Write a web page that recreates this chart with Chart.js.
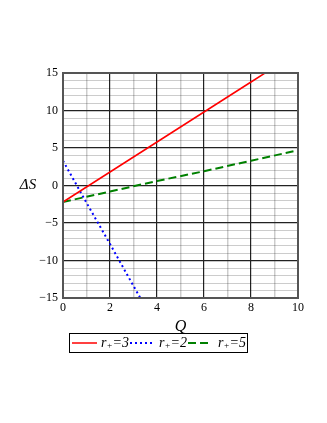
<!DOCTYPE html>
<html>
<head>
<meta charset="utf-8">
<script src="https://cdn.jsdelivr.net/npm/chart.js@4"></script>
<style>
  html, body { margin: 0; padding: 0; background: #fff; }
  #wrap { width: 327px; height: 423px; }
</style>
</head>
<body>
<div id="wrap"><canvas id="chart" width="327" height="423"></canvas></div>
<script>
// values
const seriesNames = ['r\u208A=3', 'r\u208A=2', 'r\u208A=5'];
const qRed   = [0, 2, 4, 6, 8, 10];
const sRed   = [-2.2, 1.8, 5.8, 9.8, 13.8, 17.8];
const qBlue  = [0, 1, 2, 3, 4];
const sBlue  = [3.3, -2.3, -7.8, -13.4, -18.9];
const qGreen = [0, 2, 4, 6, 8, 10];
const sGreen = [-2.2, -0.8, 0.6, 1.9, 3.3, 4.7];
const xTicks = [0, 2, 4, 6, 8, 10];
const yTicks = [-15, -10, -5, 0, 5, 10, 15];

const serif = "'Liberation Serif', 'DejaVu Serif', serif";
const pts = (xs, ys) => xs.map((x, i) => ({ x: x, y: ys[i] }));
const fmt = v => (v < 0 ? '\u2212' + Math.abs(v) : String(v));

// "r₊=3" drawn as r, a small lowered +, then the rest
function drawLabel(c, text, x, y) {
  const parts = text.split('\u208A');
  c.font = 'italic 14px ' + serif;
  c.fillText(parts[0], x, y);
  x += c.measureText(parts[0]).width;
  c.font = 'italic 9px ' + serif;
  c.fillText('+', x, y + 3);
  x += c.measureText('+').width;
  c.font = 'italic 14px ' + serif;
  c.fillText(parts[1], x, y);
}

// border of the plot box, the ΔS label and the framed legend
const frame = {
  id: 'frame',
  afterDraw(chart) {
    const a = chart.chartArea, c = chart.ctx;
    c.save();
    c.strokeStyle = '#555';
    c.lineWidth = 2;
    c.strokeRect(a.left, a.top, a.right - a.left, a.bottom - a.top);
    c.fillStyle = '#000';
    c.font = 'italic 15px ' + serif;
    c.textAlign = 'center';
    c.textBaseline = 'middle';
    c.fillText('\u0394S', 28, chart.scales.y.getPixelForValue(0));

    // legend
    c.strokeStyle = '#000';
    c.lineWidth = 1;
    c.strokeRect(69.5, 333.5, 178, 19);
    const ly = 343;
    const items = [[72, 97, 101], [130, 154, 159], [188, 212, 218]];
    c.textAlign = 'left';
    chart.data.datasets.forEach((ds, i) => {
      const it = items[i];
      c.strokeStyle = ds.borderColor;
      c.lineWidth = ds.borderWidth;
      c.setLineDash(ds.borderDash || []);
      c.beginPath();
      c.moveTo(it[0], ly);
      c.lineTo(it[1], ly);
      c.stroke();
      c.setLineDash([]);
      c.fillStyle = '#000';
      drawLabel(c, ds.label, it[2], ly);
    });
    c.restore();
  }
};

new Chart(document.getElementById('chart'), {
  type: 'line',
  data: {
    datasets: [
      { label: seriesNames[0], data: pts(qRed, sRed), borderColor: '#ff0000', borderWidth: 1.5, pointRadius: 0 },
      { label: seriesNames[1], data: pts(qBlue, sBlue), borderColor: '#0000ff', borderWidth: 2, borderDash: [2, 3], pointRadius: 0 },
      { label: seriesNames[2], data: pts(qGreen, sGreen), borderColor: '#008000', borderWidth: 2, borderDash: [8, 4], pointRadius: 0 }
    ]
  },
  options: {
    responsive: false,
    animation: false,
    layout: { padding: { left: 0, right: 29, top: 73, bottom: 87 } },
    plugins: {
      tooltip: { enabled: false },
      legend: { display: false }
    },
    scales: {
      x: {
        type: 'linear',
        min: 0, max: 10,
        afterFit(s) { s.height = 38; },
        afterBuildTicks(s) { s.ticks = Array.from({ length: 11 }, (_, i) => ({ value: i })); },
        ticks: {
          color: '#000',
          font: { family: serif, size: 12 },
          maxRotation: 0,
          autoSkip: false,
          padding: 3,
          callback: v => (xTicks.includes(v) ? fmt(v) : '')
        },
        grid: {
          drawTicks: false,
          color: c => (c.tick && c.tick.value % 2 === 0 ? '#222' : 'rgba(0,0,0,0.2)'),
          lineWidth: c => (c.tick && c.tick.value % 2 === 0 ? 1.2 : 1.5)
        },
        border: { display: false },
        title: { display: true, text: 'Q', color: '#000', font: { family: serif, style: 'italic', size: 16 }, padding: 0 }
      },
      y: {
        type: 'linear',
        min: -15, max: 15,
        afterFit(s) { s.width = 63; },
        afterBuildTicks(s) { s.ticks = Array.from({ length: 31 }, (_, i) => ({ value: i - 15 })); },
        ticks: {
          color: '#000',
          font: { family: serif, size: 12 },
          autoSkip: false,
          padding: 5,
          callback: v => (yTicks.includes(v) ? fmt(v) : '')
        },
        grid: {
          drawTicks: false,
          color: c => (c.tick && c.tick.value % 5 === 0 ? '#222' : 'rgba(0,0,0,0.2)'),
          lineWidth: c => (c.tick && c.tick.value % 5 === 0 ? 1.2 : 1)
        },
        border: { display: false }
      }
    }
  },
  plugins: [frame]
});
</script>
</body>
</html>
